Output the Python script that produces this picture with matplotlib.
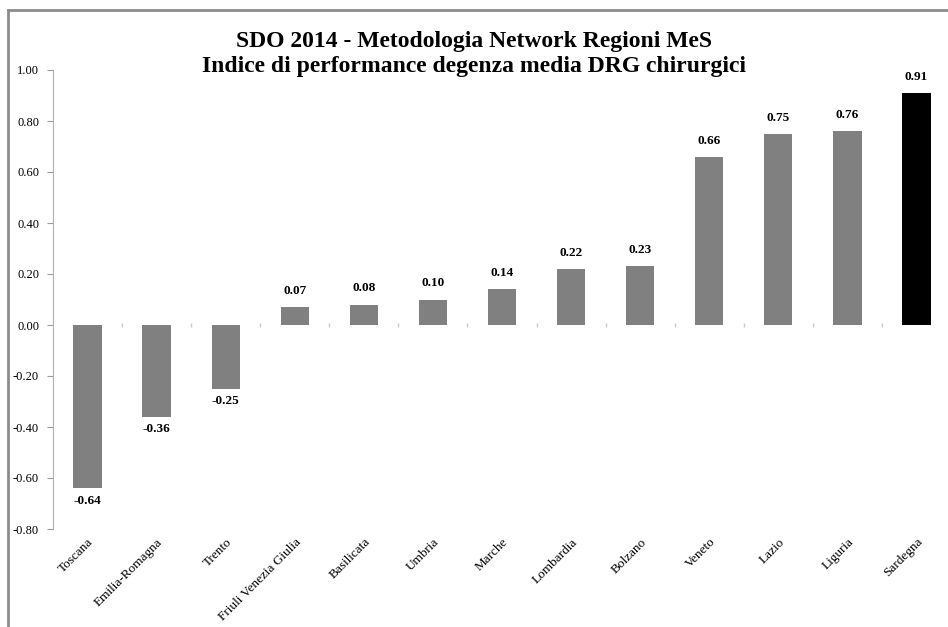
import numpy as np
import matplotlib.pyplot as plt
from matplotlib.lines import Line2D

regions = ["Toscana", "Emilia-Romagna", "Trento", "Friuli Venezia Giulia", "Basilicata",
           "Umbria", "Marche", "Lombardia", "Bolzano", "Veneto", "Lazio", "Liguria", "Sardegna"]
values = [-0.64, -0.36, -0.25, 0.07, 0.08, 0.10, 0.14, 0.22, 0.23, 0.66, 0.75, 0.76, 0.91]
highlight = "Sardegna"
yticks = [-0.8, -0.6, -0.4, -0.2, 0.0, 0.2, 0.4, 0.6, 0.8, 1.0]

plt.rcParams['font.family'] = ['Liberation Serif', 'DejaVu Serif']

fig = plt.figure(figsize=(9.48, 6.27), dpi=100)
ax = fig.add_axes([53 / 948, 98 / 627, 898 / 948, 459 / 627])

x = np.arange(len(regions))
colors = ["black" if r == highlight else "#808080" for r in regions]
ax.bar(x, values, width=0.41, color=colors, zorder=2)

# value labels
for xi, v in zip(x, values):
    if v >= 0:
        ax.text(xi, v + 0.04, f"{v:.2f}", ha="center", va="bottom", fontsize=9.5, fontweight="bold")
    else:
        ax.text(xi, v - 0.025, f"{v:.2f}", ha="center", va="top", fontsize=9.5, fontweight="bold")

# small tick marks between categories on the zero line
ax.vlines(x[:-1] + 0.5, -0.008, 0.008, color="#c8c8c8", lw=1, zorder=1)

ax.set_xlim(-0.5, len(regions) - 0.5)
ax.set_ylim(-0.8, 1.0)
ax.set_yticks(yticks)
ax.set_yticklabels([f"{t:.2f}" for t in yticks], fontsize=9)
ax.tick_params(axis="y", length=4, color="#999999", pad=6)
ax.set_xticks(x)
ax.set_xticklabels(regions, rotation=45, ha="right", rotation_mode="anchor", fontsize=9.5)
ax.tick_params(axis="x", length=0, pad=5)

for s in ["top", "right", "bottom"]:
    ax.spines[s].set_visible(False)
ax.spines["left"].set_color("#b0b0b0")

fig.text(0.5, 1 - 31 / 627, "SDO 2014 - Metodologia Network Regioni MeS\nIndice di performance degenza media DRG chirurgici",
         ha="center", va="top", fontsize=17, fontweight="bold", linespacing=1.25)

# outer chart border (top and left visible)
fig.add_artist(Line2D([8 / 948, 1.0], [1 - 10 / 627, 1 - 10 / 627], transform=fig.transFigure,
                      color="#8c8c8c", lw=2))
fig.add_artist(Line2D([8 / 948, 8 / 948], [0, 1 - 10 / 627], transform=fig.transFigure,
                      color="#8c8c8c", lw=2))

fig.savefig("out.png", dpi=100)
